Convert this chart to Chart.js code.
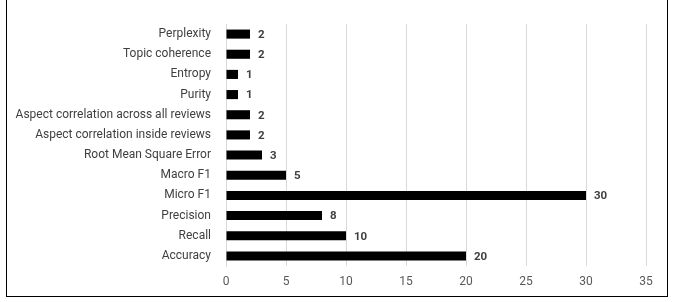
<!DOCTYPE html>
<html>
<head>
<meta charset="utf-8">
<script src="https://cdn.jsdelivr.net/npm/chart.js@4"></script>
<style>
  body { margin: 0; background: #fff; }
  canvas { display: block; }
</style>
</head>
<body>
<canvas id="grafico" width="674" height="302"></canvas>
<script>
// categorias (de cima para baixo) e valores
const categorias = [
  'Perplexity', 'Topic coherence', 'Entropy', 'Purity',
  'Aspect correlation across all reviews', 'Aspect correlation inside reviews',
  'Root Mean Square Error', 'Macro F1', 'Micro F1', 'Precision', 'Recall', 'Accuracy'
];
const valores = [2, 2, 1, 1, 2, 2, 3, 5, 30, 8, 10, 20];
const eixoMin = 0;
const eixoMax = 35;
const eixoPasso = 5;

const fonte = "'Roboto', sans-serif";

// moldura em volta do gráfico
const moldura = {
  id: 'moldura',
  afterDraw(chart) {
    const ctx = chart.ctx;
    ctx.save();
    ctx.strokeStyle = '#000';
    ctx.lineWidth = 1;
    ctx.strokeRect(6.5, -1, 661, 297.5);
    ctx.restore();
  }
};

// rótulos com o valor ao fim de cada barra
const rotulos = {
  id: 'rotulos',
  afterDatasetsDraw(chart) {
    const ctx = chart.ctx;
    const meta = chart.getDatasetMeta(0);
    ctx.save();
    ctx.font = "bold 11.5px " + fonte;
    ctx.fillStyle = '#404040';
    ctx.textBaseline = 'middle';
    meta.data.forEach((bar, i) => {
      ctx.fillText(valores[i], bar.x + 8, bar.y + 1);
    });
    ctx.restore();
  }
};

new Chart(document.getElementById('grafico').getContext('2d'), {
  type: 'bar',
  data: {
    labels: categorias,
    datasets: [{
      data: valores,
      backgroundColor: '#000',
      barPercentage: 0.9,
      categoryPercentage: 0.5
    }]
  },
  options: {
    indexAxis: 'y',
    responsive: false,
    animation: false,
    layout: { padding: { left: 0, right: 28, top: 24, bottom: 0 } },
    plugins: {
      legend: { display: false },
      tooltip: { enabled: false }
    },
    scales: {
      x: {
        min: eixoMin,
        max: eixoMax,
        ticks: {
          stepSize: eixoPasso,
          color: '#595959',
          font: { size: 12, family: fonte },
          padding: 9
        },
        grid: { color: '#d9d9d9', drawTicks: false },
        border: { display: false },
        afterFit(scale) { scale.height = 36; }
      },
      y: {
        ticks: {
          color: '#404040',
          font: { size: 12, family: fonte },
          padding: 7
        },
        grid: { display: false },
        border: { color: '#d9d9d9' },
        afterFit(scale) { scale.width = 226; }
      }
    }
  },
  plugins: [moldura, rotulos]
});
</script>
</body>
</html>
